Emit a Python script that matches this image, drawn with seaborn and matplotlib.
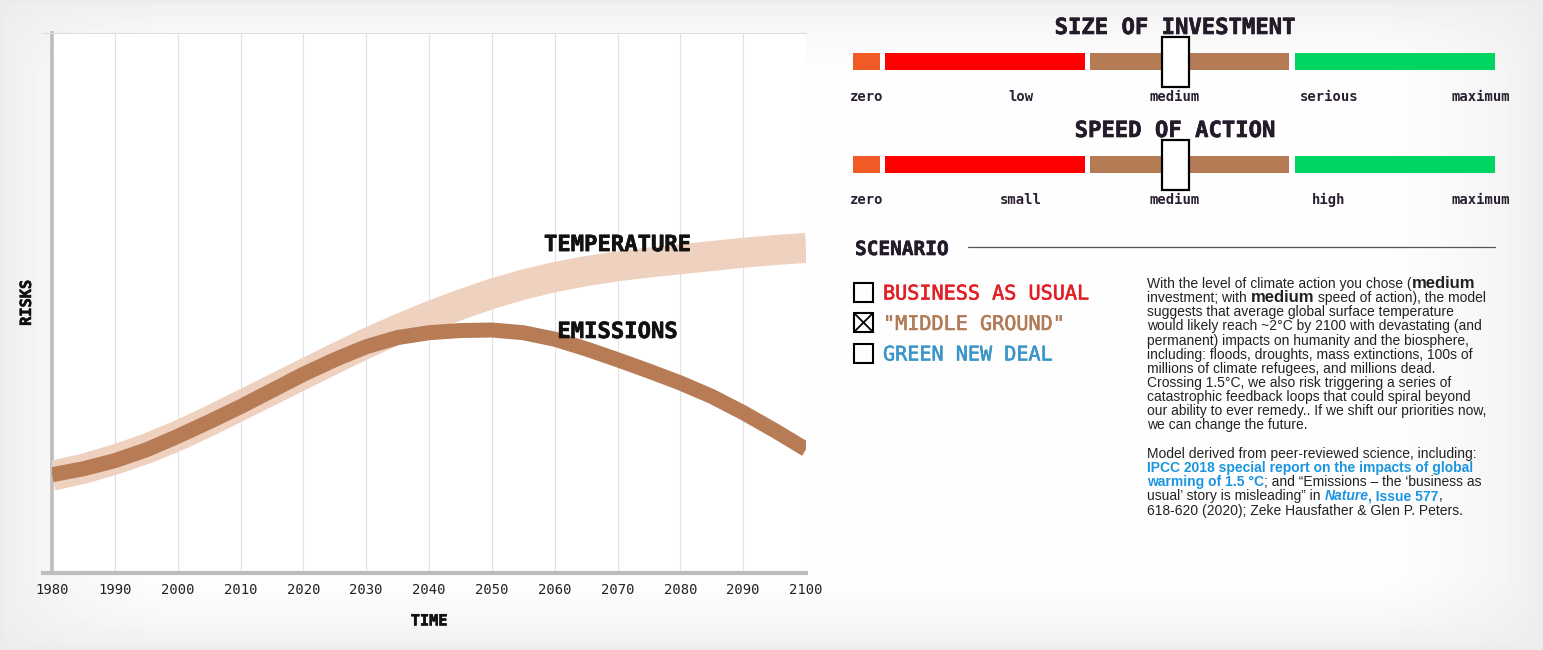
import numpy as np
import pandas as pd
import matplotlib
matplotlib.use("Agg")
import matplotlib.pyplot as plt
import matplotlib.patheffects as pe
from matplotlib.patches import Rectangle
import seaborn as sns

# ---- data ------------------------------------------------------------------
years = [1980, 1985, 1990, 1995, 2000, 2005, 2010, 2015, 2020, 2025, 2030, 2035, 2040,
         2045, 2050, 2055, 2060, 2065, 2070, 2075, 2080, 2085, 2090, 2095, 2100]
temperature = [18.0, 19.3, 21.0, 23.0, 25.4, 28.1, 31.0, 33.9, 36.8, 39.7, 42.5, 45.1, 47.5,
               49.7, 51.7, 53.4, 54.8, 55.9, 56.8, 57.5, 58.1, 58.7, 59.3, 59.8, 60.2]
emissions = [18.2, 19.3, 20.8, 22.8, 25.3, 28.0, 30.8, 33.8, 36.8, 39.5, 41.9, 43.6, 44.5,
             44.9, 45.0, 44.5, 43.3, 41.5, 39.5, 37.4, 35.2, 32.7, 29.7, 26.4, 22.9]
decade_ticks = [1980, 1990, 2000, 2010, 2020, 2030, 2040, 2050, 2060, 2070, 2080, 2090, 2100]

series_names = ["TEMPERATURE", "EMISSIONS"]
series_colors = ["#efd1bf", "#b77b55"]

invest_levels = ["zero", "low", "medium", "serious", "maximum"]
speed_levels = ["zero", "small", "medium", "high", "maximum"]
invest_choice = "medium"
speed_choice = "medium"
level_colors = ["#ef5a25", "#ff0000", "#b47b55", "#00d562"]

scenarios = ["BUSINESS AS USUAL", '"MIDDLE GROUND"', "GREEN NEW DEAL"]
scenario_colors = ["#e21f26", "#b07c57", "#3b96c8"]
scenario_chosen = '"MIDDLE GROUND"'

# ---- figure -----------------------------------------------------------------
W, H = 1543, 650
sns.set_theme(style="white")
plt.rcParams["font.family"] = ["DejaVu Sans Mono", "DejaVu Sans"]
fig = plt.figure(figsize=(W / 100, H / 100), dpi=100)

# slightly heavier look for the headings
heavy = [pe.withStroke(linewidth=0.45, foreground="#111111")]
heavy_t = [pe.withStroke(linewidth=0.45, foreground="#241b2a")]

# soft grey vignette behind everything
bg = fig.add_axes([0, 0, 1, 1], zorder=-5)
gx, gy = np.meshgrid(np.linspace(0, 1, 400), np.linspace(0, 1, 200))
edge = np.minimum(np.minimum(gx, 1 - gx) * W / 160, 1) * np.minimum(np.minimum(gy, 1 - gy) * H / 70, 1)
bg.imshow(0.925 + 0.07 * np.sqrt(edge), cmap="gray", vmin=0, vmax=1, extent=[0, 1, 0, 1], aspect="auto")
bg.axis("off")

# ---- main chart -------------------------------------------------------------
ax = fig.add_axes([52 / W, 77 / H, 754 / W, 540 / H], zorder=1)
ax.set_facecolor("white")
df = pd.DataFrame({
    "year": years * 2,
    "risk": temperature + emissions,
    "series": ["TEMPERATURE"] * len(years) + ["EMISSIONS"] * len(years),
})
sns.lineplot(data=df, x="year", y="risk", hue="series", hue_order=series_names,
             palette=dict(zip(series_names, series_colors)),
             size="series", sizes={"TEMPERATURE": 21.6, "EMISSIONS": 10.8},
             legend=False, solid_capstyle="butt", solid_joinstyle="round", ax=ax, zorder=3)

ax.set_xlim(1980, 2100)
ax.set_ylim(0, 100)
ax.set_xticks(decade_ticks)
ax.set_yticks([])
ax.tick_params(axis="x", length=0, pad=7, labelsize=10, labelcolor="#222222")
ax.grid(axis="x", color="#e2e2e2", linewidth=0.8)
ax.grid(axis="y", visible=False)
ax.spines["right"].set_visible(False)
ax.spines["left"].set_color("#bdbdbd")
ax.spines["left"].set_linewidth(2.6)
ax.spines["bottom"].set_color("#bdbdbd")
ax.spines["bottom"].set_linewidth(3)
ax.spines["bottom"].set_bounds(1978.6, 2100)
ax.spines["top"].set_color("#dedede")
ax.spines["top"].set_linewidth(0.8)
ax.spines["top"].set_bounds(1978.6, 2100)
ax.set_xlabel("TIME", fontsize=11, fontweight="bold", labelpad=12, color="#111111",
              path_effects=heavy)
ax.set_ylabel("RISKS", fontsize=11, fontweight="bold", labelpad=13, color="#111111",
              path_effects=heavy)

ax.text(2070, 61.1, series_names[0], ha="center", va="center_baseline",
        fontsize=16, fontweight="bold", color="#111111", zorder=5, path_effects=heavy)
ax.text(2070, 45.0, series_names[1], ha="center", va="center_baseline",
        fontsize=16, fontweight="bold", color="#111111", zorder=5, path_effects=heavy)

# ---- right panel (pixel coordinates) ----------------------------------------
ov = fig.add_axes([0, 0, 1, 1], zorder=2)
ov.set_xlim(0, W)
ov.set_ylim(H, 0)
ov.axis("off")
ov.patch.set_visible(False)

seg_x = [(853, 880), (885, 1085), (1090, 1289), (1295, 1495)]
label_x = [867, 1021, 1175, 1329, 1481]
title_col = "#241b2a"


def slider(title, levels, choice, top):
    ov.text(1175, top + 8, title, ha="center", va="baseline", fontsize=16,
            fontweight="bold", color=title_col, path_effects=heavy_t)
    for (x0, x1), c in zip(seg_x, level_colors):
        ov.add_patch(Rectangle((x0, top + 27), x1 - x0, 17, color=c, lw=0))
    for lx, lab in zip(label_x, levels):
        ov.text(lx, top + 75, lab, ha="center", va="baseline", fontsize=10,
                fontweight="bold", color="#2a2030")
    hx = label_x[levels.index(choice)]
    ov.add_patch(Rectangle((hx - 13.5, top + 11), 27, 50, facecolor="white",
                           edgecolor="black", lw=1.6, zorder=4))


slider("SIZE OF INVESTMENT", invest_levels, invest_choice, 26)
slider("SPEED OF ACTION", speed_levels, speed_choice, 129)

ov.text(855, 255, "SCENARIO", ha="left", va="baseline", fontsize=14,
        fontweight="bold", color=title_col, path_effects=heavy_t)
ov.plot([968, 1495], [247, 247], color="#555555", lw=0.9)

for i, (name, col) in enumerate(zip(scenarios, scenario_colors)):
    cy = 292 + i * 30.5
    ov.add_patch(Rectangle((854, cy - 9.5), 19, 19, facecolor="none",
                           edgecolor="black", lw=1.5))
    if name == scenario_chosen:
        ov.plot([854, 873], [cy - 9.5, cy + 9.5], color="black", lw=1.3)
        ov.plot([854, 873], [cy + 9.5, cy - 9.5], color="black", lw=1.3)
    ov.text(883, cy + 7.5, name, ha="left", va="baseline", fontsize=14.5, color=col,
            path_effects=[pe.withStroke(linewidth=0.4, foreground=col)])

# ---- explanatory paragraph ----------------------------------------------------
renderer = fig.canvas.get_renderer()
N = dict(family="Liberation Sans", fontsize=10, color="#222222")
B = dict(family="Liberation Sans", fontsize=12, color="#222222", fontweight="bold")
L = dict(family="Liberation Sans", fontsize=10, color="#1b95e0", fontweight="bold")
LI = dict(family="Liberation Sans", fontsize=10, color="#1b95e0", fontweight="bold", style="italic")


def text_w(s, style):
    t = ov.text(0, 0, s, **style)
    w = t.get_window_extent(renderer).width
    t.remove()
    return w


def rich_line(x, y, parts):
    for txt, style in parts:
        body = txt.strip(" ")
        sw = text_w("a a", style) - text_w("aa", style)
        x += (len(txt) - len(txt.lstrip(" "))) * sw
        t = ov.text(x, y, body, ha="left", va="baseline", **style)
        x += t.get_window_extent(renderer).width
        x += (len(txt) - len(txt.rstrip(" "))) * sw


para = [
    [("With the level of climate action you chose (", N), ("medium", B)],
    [("investment; with ", N), ("medium", B), (" speed of action), the model", N)],
    [("suggests that average global surface temperature", N)],
    [("would likely reach ~2°C by 2100 with devastating (and", N)],
    [("permanent) impacts on humanity and the biosphere,", N)],
    [("including: floods, droughts, mass extinctions, 100s of", N)],
    [("millions of climate refugees, and millions dead.", N)],
    [("Crossing 1.5°C, we also risk triggering a series of", N)],
    [("catastrophic feedback loops that could spiral beyond", N)],
    [("our ability to ever remedy.. If we shift our priorities now,", N)],
    [("we can change the future.", N)],
]
for i, parts in enumerate(para):
    rich_line(1147, 288 + i * 14.15, parts)

refs = [
    [("Model derived from peer-reviewed science, including:", N)],
    [("IPCC 2018 special report on the impacts of global", L)],
    [("warming of 1.5 °C", L), ("; and \u201cEmissions \u2013 the \u2018business as", N)],
    [("usual\u2019 story is misleading\u201d in ", N), ("Nature", LI), (", Issue 577", L), (",", N)],
    [("618-620 (2020); Zeke Hausfather & Glen P. Peters.", N)],
]
for i, parts in enumerate(refs):
    rich_line(1147, 458 + i * 14.15, parts)

fig.savefig("out.png", dpi=100, facecolor=fig.get_facecolor())
